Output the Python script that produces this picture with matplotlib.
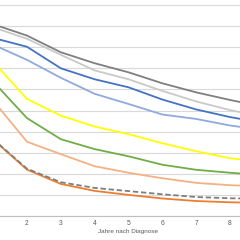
import matplotlib
matplotlib.use("Agg")
import matplotlib.pyplot as plt

years = [1, 2, 3, 4, 5, 6, 7, 8, 9]
tick_years = [2, 3, 4, 5, 6, 7, 8]
xlabels = ["2", "3", "4", "5", "6", "7", "8"]
x_title = "Jahre nach Diagnose"

dark_gray = [90.9, 85.5, 77.6, 72.4, 68.1, 62.9, 58.6, 55.0, 51.7]
light_gray = [89.4, 84.0, 76.4, 69.0, 64.8, 59.3, 54.3, 50.2, 46.9]
blue = [84.4, 80.2, 70.0, 64.8, 61.0, 55.2, 50.5, 46.9, 44.0]
light_blue = [81.2, 74.0, 65.5, 57.9, 53.1, 48.1, 46.0, 42.9, 40.7]
yellow = [73.3, 55.5, 47.6, 42.4, 38.8, 34.5, 30.7, 27.4, 25.5]
green = [63.7, 46.4, 36.4, 31.7, 28.3, 24.3, 21.9, 20.5, 19.3]
salmon = [54.7, 35.2, 29.3, 23.6, 20.5, 17.9, 15.7, 14.6, 14.0]
orange = [36.2, 22.0, 15.2, 11.9, 10.0, 8.3, 7.1, 6.5, 6.2]
dashed_gray = [36.4, 22.4, 16.0, 13.3, 11.8, 10.3, 9.0, 8.4, 8.2]

series = [
    (dark_gray, "#7f7f7f", "-"),
    (light_gray, "#c9c9c9", "-"),
    (blue, "#4472c4", "-"),
    (light_blue, "#8faadc", "-"),
    (yellow, "#ffff00", "-"),
    (green, "#70ad47", "-"),
    (salmon, "#f4b183", "-"),
    (orange, "#ed7d31", "-"),
    (dashed_gray, "#7f7f7f", (0, (3, 1.5))),
]

fig = plt.figure(figsize=(2.4, 2.4), dpi=100)
ax = fig.add_axes([0, 0.1, 1, 0.9])
for vals, col, ls in series:
    ax.plot(years, vals, color=col, lw=1.3, linestyle=ls, solid_joinstyle="round")

ax.set_yticks(range(0, 101, 10))
ax.yaxis.grid(True, color="#d9d9d9", lw=0.8)
ax.set_axisbelow(True)
ax.tick_params(axis="y", left=False, labelleft=False)
ax.set_xticks(tick_years)
ax.set_xticklabels(xlabels, fontsize=4.8, color="#595959", family="Liberation Sans")
ax.tick_params(axis="x", length=0, pad=3)
ax.set_xlim(1.202, 8.296)
ax.set_ylim(0, 216 / 2.11)
for s in ["left", "right", "top"]:
    ax.spines[s].set_visible(False)
ax.spines["bottom"].set_color("#bfbfbf")
ax.spines["bottom"].set_linewidth(0.8)
fig.text(128 / 240, 1 - 231.5 / 240, x_title, ha="center", va="center",
         fontsize=4.6, color="#595959", family="Liberation Sans")
fig.savefig("out.png", dpi=100)
